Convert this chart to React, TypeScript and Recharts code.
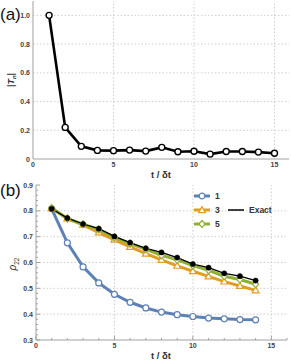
import React from 'react';
import { LineChart, Line, XAxis, YAxis, ReferenceLine } from 'recharts';

// panel (a): |T_n| vs t/δt
const stepsA = [1, 2, 3, 4, 5, 6, 7, 8, 9, 10, 11, 12, 13, 14, 15];
const tnAbs = [1.0, 0.22, 0.088, 0.06, 0.058, 0.062, 0.055, 0.081, 0.05, 0.054, 0.034, 0.052, 0.052, 0.048, 0.04];

// panel (b): rho_22 vs t/δt
const stepsB = [1, 2, 3, 4, 5, 6, 7, 8, 9, 10, 11, 12, 13, 14];
const rho1 = [0.808, 0.676, 0.583, 0.521, 0.477, 0.446, 0.424, 0.408, 0.398, 0.391, 0.385, 0.382, 0.379, 0.378];
const rho3 = [0.81, 0.77, 0.746, 0.716, 0.688, 0.66, 0.634, 0.61, 0.587, 0.566, 0.546, 0.526, 0.509, 0.492];
const rho5 = [0.81, 0.77, 0.748, 0.728, 0.697, 0.673, 0.651, 0.628, 0.61, 0.588, 0.57, 0.547, 0.534, 0.516];
const rhoExact = [0.808, 0.772, 0.749, 0.731, 0.701, 0.677, 0.655, 0.639, 0.619, 0.594, 0.58, 0.558, 0.547, 0.53];

const xTicksA = [0, 5, 10, 15];
const yTicksA = [0, 0.2, 0.4, 0.6, 0.8, 1.0];
const gridXA = [5, 10, 15];
const gridYA = [0.2, 0.4, 0.6, 0.8, 1.0];
const xTicksB = [0, 1, 2, 3, 4, 5, 6, 7, 8, 9, 10, 11, 12, 13, 14, 15, 16];
const yTicksB = [0.3, 0.32, 0.34, 0.36, 0.38, 0.4, 0.42, 0.44, 0.46, 0.48, 0.5, 0.52, 0.54, 0.56, 0.58, 0.6, 0.62, 0.64, 0.66, 0.68, 0.7, 0.72, 0.74, 0.76, 0.78, 0.8, 0.82, 0.84, 0.86, 0.88, 0.9];
const gridXB = [5, 10, 15];
const gridYB = [0.4, 0.5, 0.6, 0.7, 0.8];

const dataA = stepsA.map((t, i) => ({ t, v: tnAbs[i] }));
const dataB = stepsB.map((t, i) => ({ t, r1: rho1[i], r3: rho3[i], r5: rho5[i], ex: rhoExact[i] }));

const BLUE = '#5E81B5';
const ORANGE = '#E19C24';
const GREEN = '#8FB032';
const FRAME = '#a0a0a0';
const GRID = '#cfcfcf';
const FONT = '"Liberation Sans", Arial, sans-serif';

const labelStyle = { fontSize: 7, fontWeight: 700, fill: '#444', fontFamily: FONT };

const isMajor = (v: number, step: number) => Math.abs(v / step - Math.round(v / step)) < 1e-6;

// custom tick renderers: tickSize/tickMargin are 0, so (x, y) is the frame edge
const bottomTick = (step: number, lines: boolean) => (p: any) => {
  const v = p.payload.value;
  const major = isMajor(v, step);
  return (
    <g>
      {lines && <line x1={p.x} x2={p.x} y1={p.y} y2={p.y - (major ? 4 : 2)} stroke={FRAME} />}
      {major && <text x={p.x} y={p.y + 8} textAnchor="middle" {...labelStyle}>{v}</text>}
    </g>
  );
};
const topTick = (step: number) => (p: any) => {
  const major = isMajor(p.payload.value, step);
  return <line x1={p.x} x2={p.x} y1={p.y} y2={p.y + (major ? 4 : 2)} stroke={FRAME} />;
};
const leftTick = (step: number, lines: boolean, fmt: (v: number) => string) => (p: any) => {
  const v = p.payload.value;
  const major = isMajor(v, step);
  return (
    <g>
      {lines && <line x1={p.x} x2={p.x + (major ? 4 : 2)} y1={p.y} y2={p.y} stroke={FRAME} />}
      {major && <text x={p.x - 3} y={p.y + 2.5} textAnchor="end" {...labelStyle}>{fmt(v)}</text>}
    </g>
  );
};
const rightTick = (step: number) => (p: any) => {
  const major = isMajor(p.payload.value, step);
  return <line x1={p.x} x2={p.x - (major ? 4 : 2)} y1={p.y} y2={p.y} stroke={FRAME} />;
};

const circleDot = (stroke: string, fill: string, sw: number, r: number) => (p: any) => (
  <circle key={`c${p.index}`} cx={p.cx} cy={p.cy} r={r} fill={fill} stroke={stroke} strokeWidth={sw} />
);
const triDot = (stroke: string) => (p: any) => (
  <polygon key={`t${p.index}`}
    points={`${p.cx},${p.cy - 3.6} ${p.cx - 3.4},${p.cy + 2.4} ${p.cx + 3.4},${p.cy + 2.4}`}
    fill="#fff" stroke={stroke} strokeWidth={1.2} />
);
const diaDot = (stroke: string) => (p: any) => (
  <polygon key={`d${p.index}`}
    points={`${p.cx},${p.cy - 3.6} ${p.cx + 3},${p.cy} ${p.cx},${p.cy + 3.6} ${p.cx - 3},${p.cy}`}
    fill="#fff" stroke={stroke} strokeWidth={1.2} />
);

const axisTitle = (cx: number, cy: number) => () => (
  <text x={cx} y={cy} textAnchor="middle" fontSize={9.5} fontWeight={700} fill="#333" fontFamily={FONT}>
    t / δt
  </text>
);

const LegendIcon = ({ color, marker, width }: { color: string; marker?: string; width: number }) => (
  <svg width={16} height={8} style={{ display: 'block' }}>
    <line x1={0} x2={16} y1={4} y2={4} stroke={color} strokeWidth={width} />
    {marker === 'circle' && <circle cx={8} cy={4} r={2.8} fill="#fff" stroke={color} strokeWidth={1.2} />}
    {marker === 'tri' && <polygon points="8,0.6 4.6,6.6 11.4,6.6" fill="#fff" stroke={color} strokeWidth={1.2} />}
    {marker === 'dia' && <polygon points="8,0.4 11,4 8,7.6 5,4" fill="#fff" stroke={color} strokeWidth={1.2} />}
  </svg>
);

const legendText = { fontSize: 8.5, fontWeight: 700, color: '#333', fontFamily: FONT, marginLeft: 5, lineHeight: '10px' } as const;
const legendRow = (left: number, top: number) =>
  ({ position: 'absolute', left, top, display: 'flex', alignItems: 'center', height: 10 }) as const;

const LegendBox = () => (
  <div style={{ position: 'absolute', left: 194, top: 191, width: 90, height: 44 }}>
    <div style={legendRow(0, 0)}>
      <LegendIcon color={BLUE} marker="circle" width={3} /><span style={legendText}>1</span>
    </div>
    <div style={legendRow(0, 14)}>
      <LegendIcon color={ORANGE} marker="tri" width={3} /><span style={legendText}>3</span>
    </div>
    <div style={legendRow(0, 28)}>
      <LegendIcon color={GREEN} marker="dia" width={3} /><span style={legendText}>5</span>
    </div>
    <div style={legendRow(34, 14)}>
      <LegendIcon color="#000" width={1.5} /><span style={legendText}>Exact</span>
    </div>
  </div>
);

const panelLabel = { position: 'absolute', left: 0, fontSize: 17, fontFamily: FONT, color: '#111', lineHeight: '17px' } as const;

export default function App() {
  return (
    <div style={{ position: 'absolute', left: 0, top: 0, width: 291, height: 362, background: '#fff' }}>
      <LineChart width={291} height={180} data={dataA} margin={{ top: 1, right: 2, bottom: 0, left: 0 }}>
        <XAxis dataKey="t" type="number" domain={[0, 15.9]} ticks={xTicksA} allowDataOverflow
          height={21} tickSize={0} tickMargin={0} tickLine={false} axisLine={{ stroke: FRAME }}
          tick={bottomTick(5, false)} interval={0}
          label={{ content: axisTitle(161, 178) }} />
        <XAxis xAxisId="top" dataKey="t" orientation="top" type="number" domain={[0, 15.9]} height={0}
          allowDataOverflow tick={false} tickLine={false} axisLine={{ stroke: FRAME }} />
        <YAxis type="number" domain={[0, 1.1]} ticks={yTicksA} allowDataOverflow width={33}
          tickSize={0} tickMargin={0} tickLine={false} axisLine={{ stroke: FRAME }} interval={0}
          tick={leftTick(0.2, false, (v) => (v === 0 ? '0' : v.toFixed(1)))}
          label={{
            content: () => (
              <text transform="translate(14,80) rotate(-90)" textAnchor="middle" fontSize={9} fontWeight={700} fill="#333" fontFamily={FONT}>
                |<tspan fontStyle="italic">T</tspan><tspan fontSize={6} dy={2} fontStyle="italic">n</tspan><tspan dy={-2}>|</tspan>
              </text>
            ),
          }} />
        <YAxis yAxisId="right" orientation="right" type="number" domain={[0, 1.1]} width={0}
          allowDataOverflow tick={false} tickLine={false} axisLine={{ stroke: FRAME }} />
        {gridXA.map((x) => (
          <ReferenceLine key={`gx${x}`} x={x} stroke={GRID} strokeDasharray="1.5 2" />
        ))}
        {gridYA.map((y) => (
          <ReferenceLine key={`gy${y}`} y={y} stroke={GRID} strokeDasharray="1.5 2" />
        ))}
        {/* invisible series so the frame axes on top/right get drawn */}
        <Line dataKey="v" xAxisId="top" yAxisId="right" stroke="none" dot={false} activeDot={false} isAnimationActive={false} />
        <Line dataKey="v" stroke="#000" strokeWidth={2.6} isAnimationActive={false}
          dot={circleDot('#000', '#fff', 1.4, 3)} activeDot={false} />
      </LineChart>

      <LineChart width={291} height={182} data={dataB} margin={{ top: 5, right: 4, bottom: 0, left: 0 }}>
        <XAxis dataKey="t" type="number" domain={[0, 16]} ticks={xTicksB} allowDataOverflow
          height={22} tickSize={0} tickMargin={0} tickLine={false} axisLine={{ stroke: FRAME }}
          tick={bottomTick(5, true)} interval={0}
          label={{ content: axisTitle(161, 179) }} />
        <XAxis xAxisId="top" dataKey="t" orientation="top" type="number" domain={[0, 16]} ticks={xTicksB} height={0}
          allowDataOverflow tickSize={0} tickMargin={0} tickLine={false} interval={0}
          tick={topTick(5)} axisLine={{ stroke: FRAME }} />
        <YAxis type="number" domain={[0.3, 0.9]} ticks={yTicksB} allowDataOverflow width={36}
          tickSize={0} tickMargin={0} tickLine={false} axisLine={{ stroke: FRAME }} interval={0}
          tick={leftTick(0.1, true, (v) => v.toFixed(1))}
          label={{
            content: () => (
              <text transform="translate(16,84) rotate(-90)" textAnchor="middle" fontSize={10} fill="#333" fontFamily={FONT}>
                <tspan fontStyle="italic">ρ</tspan><tspan fontSize={6.5} dy={2.5}>22</tspan>
              </text>
            ),
          }} />
        <YAxis yAxisId="right" orientation="right" type="number" domain={[0.3, 0.9]} ticks={yTicksB} width={0}
          allowDataOverflow tickSize={0} tickMargin={0} tickLine={false} interval={0}
          tick={rightTick(0.1)} axisLine={{ stroke: FRAME }} />
        {gridXB.map((x) => (
          <ReferenceLine key={`gx${x}`} x={x} stroke={GRID} strokeDasharray="1.5 2" />
        ))}
        {gridYB.map((y) => (
          <ReferenceLine key={`gy${y}`} y={y} stroke={GRID} strokeDasharray="1.5 2" />
        ))}
        <Line dataKey="ex" xAxisId="top" yAxisId="right" stroke="none" dot={false} activeDot={false} isAnimationActive={false} />
        <Line dataKey="r1" stroke={BLUE} strokeWidth={3} isAnimationActive={false}
          dot={circleDot(BLUE, '#fff', 1.2, 3)} activeDot={false} />
        <Line dataKey="r3" stroke={ORANGE} strokeWidth={3} isAnimationActive={false}
          dot={triDot(ORANGE)} activeDot={false} />
        <Line dataKey="r5" stroke={GREEN} strokeWidth={3} isAnimationActive={false}
          dot={diaDot(GREEN)} activeDot={false} />
        <Line dataKey="ex" stroke="#000" strokeWidth={1.3} isAnimationActive={false}
          dot={circleDot('#000', '#000', 0.5, 2.6)} activeDot={false} />
      </LineChart>

      <LegendBox />
      <div style={{ ...panelLabel, top: 6 }}>(a)</div>
      <div style={{ ...panelLabel, top: 182 }}>(b)</div>
    </div>
  );
}
